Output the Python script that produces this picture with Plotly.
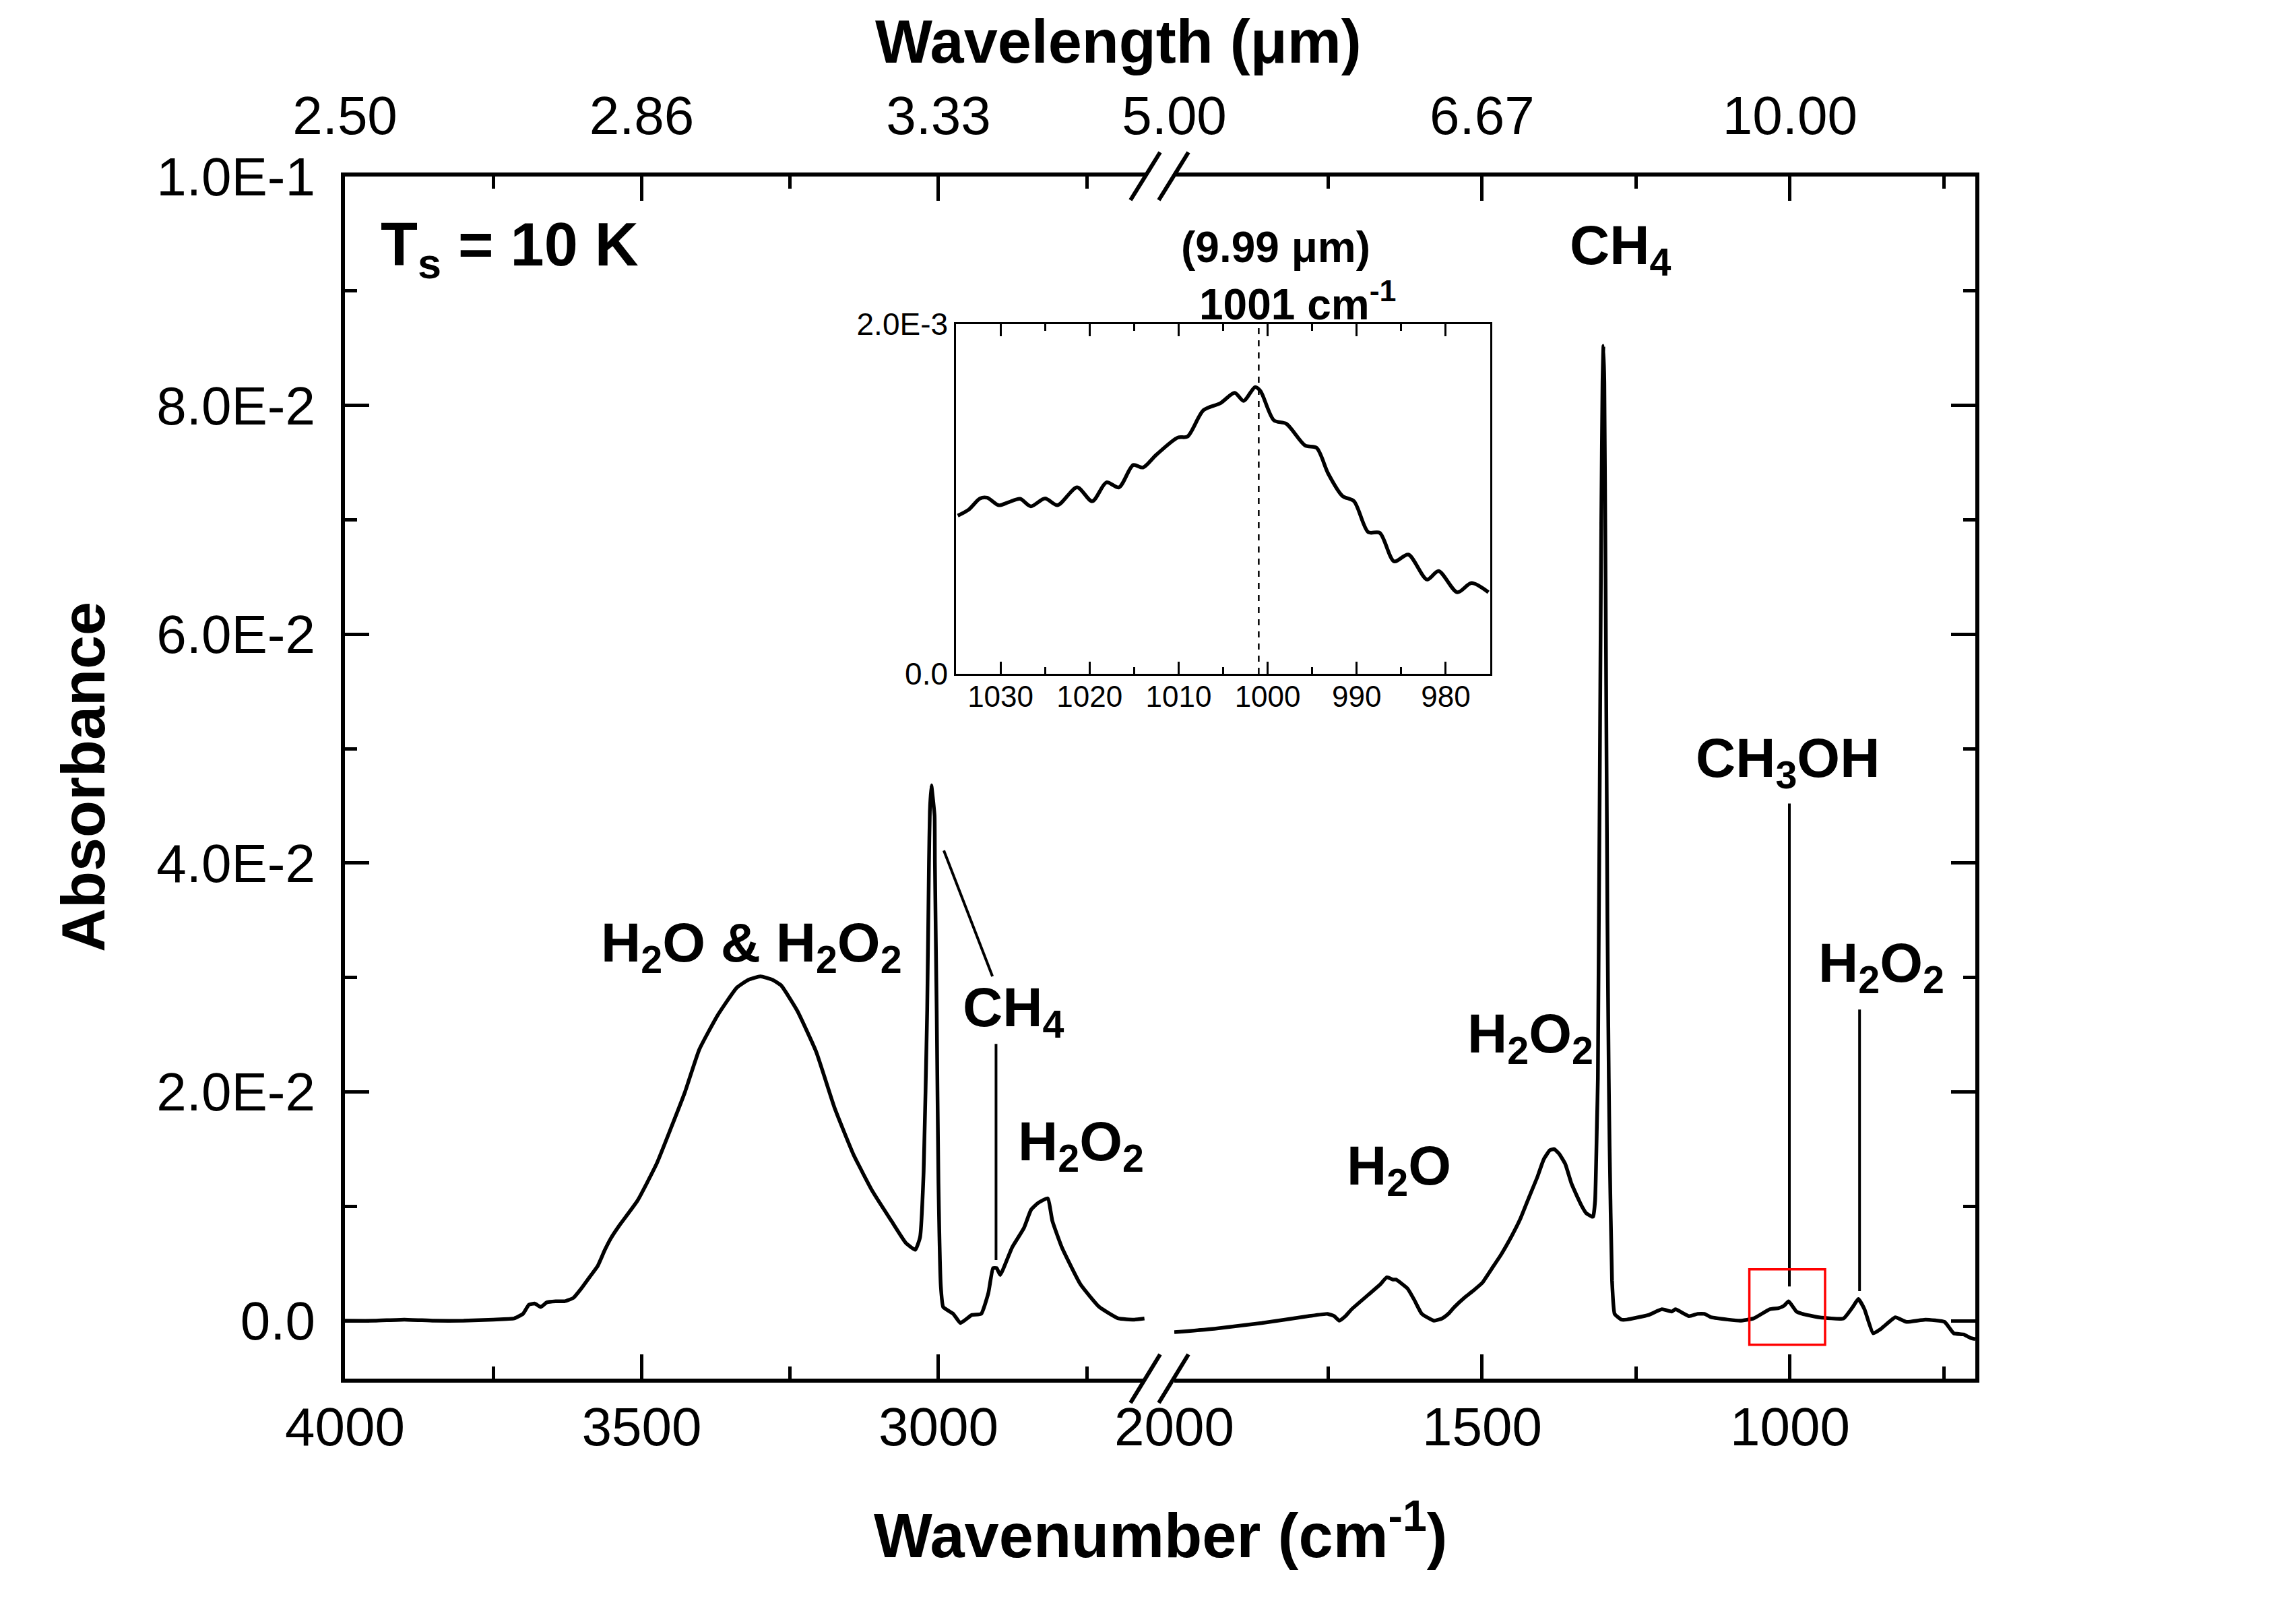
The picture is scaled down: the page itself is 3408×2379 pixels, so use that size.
import plotly.graph_objects as go

W, H = 3408, 2379
OFF = 8  # page body margin of the saved html, in px
FONT = "Liberation Sans, Arial, sans-serif"

# ---- spectrum, left part of the broken axis (cm-1, absorbance) ----
wn_left = [4000, 3950, 3900, 3850, 3800, 3750, 3715, 3700, 3690, 3680, 3670,
           3660, 3645, 3630, 3615, 3602, 3588, 3574, 3562, 3552, 3538, 3507,
           3475, 3451, 3427, 3403, 3372, 3340, 3320, 3300, 3280, 3265, 3238,
           3206, 3175, 3143, 3111, 3079, 3055, 3039, 3031, 3025, 3019, 3016,
           3014.5, 3012, 3009, 3006.5, 3006, 3003, 3000, 2996, 2992, 2975,
           2963, 2944, 2928, 2916, 2908, 2902, 2896, 2876, 2856, 2844, 2832,
           2816, 2808, 2792, 2761, 2729, 2697, 2670, 2653]
abs_left = [0.0000, 0.0000, 0.0001, 0.0000, 0.0000, 0.0001, 0.0002, 0.0006,
            0.0014, 0.0015, 0.0012, 0.0016, 0.0017, 0.0017, 0.0020, 0.0028,
            0.0038, 0.0048, 0.0062, 0.0072, 0.0083, 0.0105, 0.0137, 0.0168,
            0.0200, 0.0237, 0.0267, 0.0291, 0.0298, 0.0301, 0.0298, 0.0293,
            0.0271, 0.0235, 0.0186, 0.0145, 0.0113, 0.0087, 0.0068, 0.0062,
            0.0073, 0.0130, 0.0271, 0.0400, 0.0445, 0.0468, 0.0455, 0.0441,
            0.0400, 0.0271, 0.0120, 0.0030, 0.0012, 0.0006, -0.0002, 0.0005,
            0.0006, 0.0024, 0.0046, 0.0046, 0.0040, 0.0064, 0.0081, 0.0097,
            0.0103, 0.0107, 0.0087, 0.0064, 0.0032, 0.0012, 0.0002, 0.0001,
            0.0002]

# ---- spectrum, right part of the broken axis ----
wn_right = [2000, 1935, 1858, 1782, 1751, 1740, 1732, 1722, 1712, 1682, 1665,
            1655, 1645, 1640, 1621, 1610, 1598, 1578, 1565, 1555, 1545, 1529,
            1515, 1500, 1485, 1469, 1452, 1438, 1423, 1410, 1400, 1390, 1383,
            1375, 1365, 1355, 1346, 1338, 1331, 1322, 1319.6, 1316.5, 1313.5,
            1312, 1306.5, 1304.5, 1303, 1301.5, 1299.5, 1296.5, 1294.3, 1293,
            1289, 1284.8, 1274, 1265, 1230, 1208, 1192, 1186, 1164, 1150, 1139,
            1128, 1101, 1081, 1059, 1033, 1018.6, 1010, 1002.2, 989.5, 980, 953,
            913, 898, 889, 879, 865, 852, 829, 811, 780, 749, 734, 718, 707, 699]
abs_right = [-0.0010, -0.0007, -0.0002, 0.0004, 0.0006, 0.0004, 0.0000,
             0.0004, 0.0010, 0.0024, 0.0032, 0.0038, 0.0036, 0.0036, 0.0028,
             0.0018, 0.0006, 0.0000, 0.0002, 0.0006, 0.0012, 0.0020, 0.0026,
             0.0033, 0.0045, 0.0058, 0.0074, 0.0089, 0.0109, 0.0126, 0.0141,
             0.0149, 0.0150, 0.0146, 0.0137, 0.0120, 0.0109, 0.0100, 0.0094,
             0.0091, 0.0091, 0.0105, 0.0173, 0.0212, 0.0700, 0.0820, 0.0852,
             0.0820, 0.0650, 0.0350, 0.0212, 0.0153, 0.0035, 0.0006, 0.0001,
             0.0001, 0.0005, 0.0010, 0.0008, 0.0010, 0.0004, 0.0006, 0.0006,
             0.0003, 0.0001, 0.0000, 0.0002, 0.0010, 0.0011, 0.0013, 0.0017,
             0.0008, 0.0006, 0.0003, 0.0002, 0.0012, 0.0019, 0.0010, -0.0011,
             -0.0007, 0.0003, -0.0001, 0.0001, -0.0001, -0.0011, -0.0012,
             -0.0015, -0.0016]

# ---- inset: CH3OH band near 1001 cm-1 ----
wn_zoom = [1034.8, 1033.6, 1032.3, 1031.5, 1030.2, 1029.1, 1027.8, 1026.6,
           1025.0, 1023.6, 1021.4, 1019.7, 1018.1, 1016.7, 1015.1, 1014.0,
           1012.5, 1010.1, 1009.0, 1007.2, 1005.3, 1003.7, 1002.7, 1001.4,
           1000.8, 999.3, 997.9, 995.8, 994.5, 993.2, 991.6, 990.3, 988.7,
           987.4, 985.8, 984.2, 982.1, 980.8, 978.7, 977.1, 975.2]
abs_zoom = [0.000905, 0.000938, 0.001003, 0.001007, 0.000964, 0.000981,
            0.001001, 0.000958, 0.001003, 0.000964, 0.001066, 0.000987,
            0.001095, 0.001066, 0.001194, 0.001180, 0.001253, 0.001351,
            0.001357, 0.001508, 0.001548, 0.001607, 0.001561, 0.001640,
            0.001617, 0.001450, 0.001430, 0.001306, 0.001292, 0.001145,
            0.001017, 0.000987, 0.000810, 0.000806, 0.000643, 0.000682,
            0.000539, 0.000588, 0.000466, 0.000519, 0.000466]

y_ticks = [0, 0.02, 0.04, 0.06, 0.08, 0.1]
y_labels = ["0.0", "2.0E-2", "4.0E-2", "6.0E-2", "8.0E-2", "1.0E-1"]
left_ticks = [4000, 3500, 3000]
left_minor = [3750, 3250, 2750]
right_ticks = [2000, 1500, 1000]
right_minor = [1750, 1250, 750]
zoom_ticks = [1030, 1020, 1010, 1000, 990, 980]
zoom_minor = [1025, 1015, 1005, 995, 985]

# band labels: text, axis, wavenumber, absorbance
labels = [
    ("H<sub>2</sub>O &amp; H<sub>2</sub>O<sub>2</sub>", "x", 3315, 0.0331),
    ("CH<sub>4</sub>", "x", 2874, 0.0274),
    ("H<sub>2</sub>O<sub>2</sub>", "x", 2760, 0.0157),
    ("H<sub>2</sub>O", "x2", 1635, 0.0136),
    ("H<sub>2</sub>O<sub>2</sub>", "x2", 1422, 0.0251),
    ("CH<sub>4</sub>", "x2", 1276, 0.0940),
    ("CH<sub>3</sub>OH", "x2", 1004, 0.0492),
    ("H<sub>2</sub>O<sub>2</sub>", "x2", 852, 0.0313),
]
# leader lines: axis, x0, y0, x1, y1
leaders = [
    ("x", 2991, 0.0411, 2909, 0.0301),
    ("x", 2903, 0.0242, 2903, 0.0053),
    ("x2", 1001, 0.0452, 1001, 0.0030),
    ("x2", 887, 0.0272, 887, 0.0026),
]


def px(x):
    return (x - OFF) / W


def py(y):
    return 1 - (y - OFF) / H


def axis_style(**kw):
    d = dict(showline=True, linecolor="black", linewidth=6, ticks="inside",
             ticklen=36, tickwidth=5, tickcolor="black", showgrid=False,
             zeroline=False, automargin=False,
             tickfont=dict(family=FONT, size=80, color="black"))
    d.update(kw)
    return d


fig = go.Figure()
fig.add_trace(go.Scatter(x=wn_left, y=abs_left, mode="lines", xaxis="x", yaxis="y",
                         line=dict(color="black", width=5.5, shape="spline", smoothing=0.4)))
fig.add_trace(go.Scatter(x=wn_right, y=abs_right, mode="lines", xaxis="x2", yaxis="y2",
                         line=dict(color="black", width=5.5, shape="spline", smoothing=0.4)))
fig.add_trace(go.Scatter(x=wn_zoom, y=abs_zoom, mode="lines", xaxis="x5", yaxis="y5",
                         line=dict(color="black", width=5.5, shape="spline", smoothing=0.8)))
# hidden traces so the top wavelength axes get drawn
fig.add_trace(go.Scatter(x=left_ticks, y=y_ticks[:3], mode="markers", xaxis="x3",
                         yaxis="y", marker=dict(opacity=0), hoverinfo="skip"))
fig.add_trace(go.Scatter(x=right_ticks, y=y_ticks[:3], mode="markers", xaxis="x4",
                         yaxis="y2", marker=dict(opacity=0), hoverinfo="skip"))

minor_x = dict(ticks="inside", ticklen=18, tickwidth=5, tickcolor="black")
minor_y = dict(ticks="inside", ticklen=18, tickwidth=5, tickcolor="black", dtick=0.01)
y_range = [-0.00506, 0.1]

fig.update_layout(
    template="none",
    width=W, height=H, margin=dict(l=0, r=0, t=0, b=0, pad=0),
    paper_bgcolor="white", plot_bgcolor="white", showlegend=False,
    xaxis=axis_style(domain=[px(512), px(1700)], range=[4000, 2651.5], anchor="y",
                     tickvals=left_ticks, minor=dict(tickvals=left_minor, **minor_x),
                     ticklabelstandoff=-3),
    xaxis2=axis_style(domain=[px(1743), px(2932)], range=[2000, 699], anchor="y2",
                      tickvals=right_ticks, minor=dict(tickvals=right_minor, **minor_x),
                      ticklabelstandoff=-3),
    xaxis3=axis_style(overlaying="x", side="top", anchor="y", range=[4000, 2651.5],
                      tickvals=left_ticks, ticktext=[f"{1e4 / v:.2f}" for v in left_ticks],
                      minor=dict(tickvals=left_minor, **minor_x), ticklabelstandoff=25),
    xaxis4=axis_style(overlaying="x2", side="top", anchor="y2", range=[2000, 699],
                      tickvals=right_ticks, ticktext=[f"{1e4 / v:.2f}" for v in right_ticks],
                      minor=dict(tickvals=right_minor, **minor_x), ticklabelstandoff=25),
    yaxis=axis_style(domain=[py(2046), py(262)], range=y_range, anchor="x",
                     tickvals=y_ticks, ticktext=y_labels, minor=minor_y,
                     ticklabelstandoff=22),
    yaxis2=axis_style(domain=[py(2046), py(262)], range=y_range, anchor="x2",
                      side="right", showticklabels=False, tickvals=y_ticks,
                      minor=minor_y),
    xaxis5=axis_style(domain=[px(1419), px(2212)], range=[1035, 975], anchor="y5",
                      linewidth=2.5, ticklen=18, tickwidth=2.5, mirror="ticks",
                      tickvals=zoom_ticks, tickfont=dict(family=FONT, size=44, color="black"),
                      minor=dict(tickvals=zoom_minor, ticks="inside", ticklen=10,
                                 tickwidth=2.5, tickcolor="black"),
                      ticklabelstandoff=-7),
    yaxis5=axis_style(domain=[py(1000), py(481)], range=[0, 0.002], anchor="x5",
                      linewidth=2.5, ticks="", mirror=True, tickvals=[0, 0.002],
                      ticktext=["0.0", "2.0E-3"],
                      tickfont=dict(family=FONT, size=46, color="black"),
                      ticklabelstandoff=0),
)

shapes = []
for ax, x0, y0, x1, y1 in leaders:
    shapes.append(dict(type="line", xref=ax, yref="y", x0=x0, y0=y0, x1=x1, y1=y1,
                       line=dict(color="black", width=4)))
# red box marking the zoomed region
shapes.append(dict(type="rect", xref="x2", yref="y", x0=1066, x1=943, y0=-0.0021,
                   y1=0.0045, line=dict(color="red", width=3.5)))
# dashed marker in the inset
shapes.append(dict(type="line", xref="x5", yref="y5", x0=1001, x1=1001, y0=0, y1=0.002,
                   line=dict(color="black", width=2.5, dash="dash")))
# axis break marks "//" on top and bottom axes
for ya, yb in [(2082, 2010), (297, 226)]:
    for xa in (1678, 1720):
        shapes.append(dict(type="line", xref="paper", yref="paper",
                           x0=px(xa), y0=py(ya), x1=px(xa + 44), y1=py(yb),
                           line=dict(color="black", width=6)))
fig.update_layout(shapes=shapes)

for text, ax, x, y in labels:
    fig.add_annotation(text=f"<b>{text}</b>", xref=ax, yref="y", x=x, y=y, yshift=-6,
                       showarrow=False, xanchor="center", yanchor="middle",
                       font=dict(family=FONT, size=82, color="black"))

notes = [
    ("<b>T<sub>s</sub> = 10 K</b>", 563, 369, 90, "left", 0),
    ("<b>Wavelength (μm)</b>", 1660, 62, 90, "center", 0),
    ("<b>Wavenumber (cm<sup>-1</sup>)</b>", 1722, 2272, 92, "center", 0),
    ("<b>Absorbance</b>", 124, 1153, 90, "center", -90),
    ("<b>(9.99 μm)</b>", 1893, 367, 64, "center", 0),
    ("<b>1001 cm<sup>-1</sup></b>", 1926, 447, 64, "center", 0),
]
for text, x, y, size, anchor, angle in notes:
    fig.add_annotation(text=text, xref="paper", yref="paper", x=px(x), y=py(y),
                       showarrow=False, xanchor=anchor, yanchor="middle",
                       textangle=angle, font=dict(family=FONT, size=size, color="black"))

fig.write_html("out.html")
